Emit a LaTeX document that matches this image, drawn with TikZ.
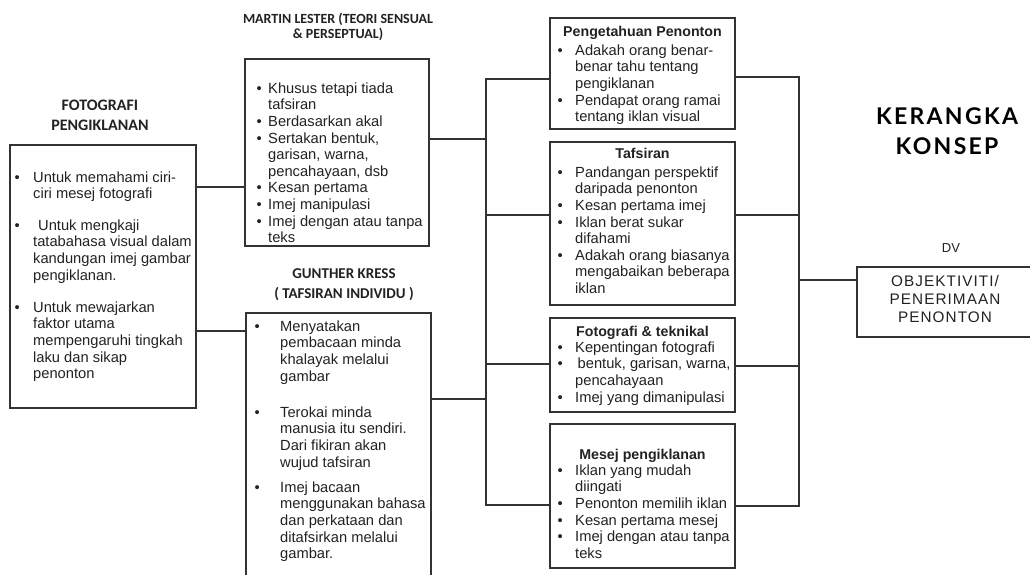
\documentclass[tikz,border=0pt]{standalone}
\usepackage{fontspec}
\setmainfont{Liberation Sans}
\newfontfamily\hfont{Carlito}
\newfontfamily\kfont[LetterSpace=10]{Lato}
\newfontfamily\dvfont[LetterSpace=7]{Liberation Sans}
\definecolor{textc}{HTML}{222222}
\definecolor{linec}{HTML}{333333}
\newlength\bindent
\newcommand{\mystrut}{\rule{0pt}{11pt}}
\newcommand{\bu}[1]{\makebox[\bindent][l]{\textbullet}#1}
\newcommand{\cn}[1]{\hspace*{\bindent}#1}
\begin{document}
\begin{tikzpicture}[x=1pt,y=-1pt,
  box/.style={draw=linec, line width=1.4pt, rectangle, inner sep=0pt, outer sep=0pt, anchor=north west},
  conn/.style={draw=linec, line width=1.4pt},
  ind/.code={\global\bindent=#1\relax},
  txt/.style={anchor=north west, align=left, inner sep=0pt, text=textc, font=\fontsize{14.7}{16.6}\selectfont},
  ttl/.style={anchor=north, align=center, inner sep=0pt, text=textc, font=\fontsize{14.2}{16.6}\selectfont\bfseries},
  hdr/.style={anchor=north, align=center, inner sep=0pt, text=textc, font=\hfont\bfseries\fontsize{16}{20}\selectfont},
  hdrg/.style={anchor=north, align=center, inner sep=0pt, text=textc, font=\hfont\bfseries\fontsize{15}{20}\selectfont},
  hdrt/.style={anchor=north, align=center, inner sep=0pt, text=textc, font=\hfont\bfseries\fontsize{14}{15}\selectfont}]
\fill[white] (0,0) rectangle (1030,574);
\useasboundingbox (0,0) rectangle (1030,574);

% boxes
\node[box, minimum width=186pt, minimum height=263pt] (left) at (10,145) {};
\node[box, minimum width=184pt, minimum height=187pt] (martin) at (245,59) {};
\node[box, minimum width=185pt, minimum height=280pt] (gunther) at (246,313) {};
\node[box, minimum width=185pt, minimum height=111pt] (peng) at (550,18) {};
\node[box, minimum width=185pt, minimum height=163pt] (tafs) at (550,142) {};
\node[box, minimum width=185pt, minimum height=94pt] (foto) at (550,318) {};
\node[box, minimum width=185pt, minimum height=144pt] (mesej) at (550,424) {};
\node[box, minimum width=190pt, minimum height=70pt] (dv) at (857,267) {};

% bus coordinates
\coordinate (bl) at (486,0);
\coordinate (br) at (799,0);

% connectors
\draw[conn] (left.east |- 0,187) -- (martin.west |- 0,187);
\draw[conn] (left.east |- 0,331) -- (gunther.west |- 0,331);
\draw[conn] (martin.east |- 0,139) -- (bl |- 0,139);
\draw[conn] (gunther.east |- 0,399) -- (bl |- 0,399);
\draw[conn] (peng.west |- 0,79) -- (bl |- 0,79) -- (bl |- 0,505) -- (mesej.west |- 0,505);
\draw[conn] (bl |- 0,215) -- (tafs.west |- 0,215);
\draw[conn] (bl |- 0,364) -- (foto.west |- 0,364);
\draw[conn] (peng.east |- 0,77) -- (br |- 0,77) -- (br |- 0,506) -- (mesej.east |- 0,506);
\draw[conn] (tafs.east |- 0,215) -- (br |- 0,215);
\draw[conn] (foto.east |- 0,366) -- (br |- 0,366);
\draw[conn] (br |- 0,280) -- (dv.west |- 0,280);

% headers
\node[hdr] (hleft) at (100,99) {\mystrut FOTOGRAFI\\PENGIKLANAN};
\node[hdrt] (hmartin) at (338,12) {\mystrut MARTIN LESTER (TEORI SENSUAL\\\& PERSEPTUAL)};
\node[hdrg] (hgunther) at (344,267) {\mystrut GUNTHER KRESS\\( TAFSIRAN INDIVIDU )};

% left text
\node[txt, ind=18.5pt] (tleft) at (14.5,171) {\mystrut\bu{Untuk memahami ciri-}\\
\cn{ciri mesej fotografi}\\[14.8pt]
\bu{\hspace{5pt}Untuk mengkaji}\\
\cn{tatabahasa visual dalam}\\
\cn{kandungan imej gambar}\\
\cn{pengiklanan.}\\[15.6pt]
\bu{Untuk mewajarkan}\\
\cn{faktor utama}\\
\cn{mempengaruhi tingkah}\\
\cn{laku dan sikap}\\
\cn{penonton}};

% martin text
\node[txt, ind=11.5pt] (tmartin) at (256.5,82) {\mystrut\bu{Khusus tetapi tiada}\\
\cn{tafsiran}\\
\bu{Berdasarkan akal}\\
\bu{Sertakan bentuk,}\\
\cn{garisan, warna,}\\
\cn{pencahayaan, dsb}\\
\bu{Kesan pertama}\\
\bu{Imej manipulasi}\\
\bu{Imej dengan atau tanpa}\\
\cn{teks}};

% gunther text
\node[txt, ind=25.5pt] (tgunther) at (254.5,320) {\mystrut\bu{Menyatakan}\\
\cn{pembacaan minda}\\
\cn{khalayak melalui}\\
\cn{gambar}\\[19.6pt]
\bu{Terokai minda}\\
\cn{manusia itu sendiri.}\\
\cn{Dari fikiran akan}\\
\cn{wujud tafsiran}\\[8.6pt]
\bu{Imej bacaan}\\
\cn{menggunakan bahasa}\\
\cn{dan perkataan dan}\\
\cn{ditafsirkan melalui}\\
\cn{gambar.}};

% right-middle boxes text
\node[ttl] (tpeng) at (642.5,25) {\mystrut Pengetahuan Penonton};
\node[txt, ind=17.5pt] (lpeng) at (557.5,44) {\mystrut\bu{Adakah orang benar-}\\
\cn{benar tahu tentang}\\
\cn{pengiklanan}\\
\bu{Pendapat orang ramai}\\
\cn{tentang iklan visual}};

\node[ttl] (ttafs) at (642.5,147) {\mystrut Tafsiran};
\node[txt, ind=17.5pt] (ltafs) at (557.5,166) {\mystrut\bu{Pandangan perspektif}\\
\cn{daripada penonton}\\
\bu{Kesan pertama imej}\\
\bu{Iklan berat sukar}\\
\cn{difahami}\\
\bu{Adakah orang biasanya}\\
\cn{mengabaikan beberapa}\\
\cn{iklan}};

\node[ttl] (tfoto) at (642.5,325) {\mystrut Fotografi \& teknikal};
\node[txt, ind=17.5pt] (lfoto) at (557.5,341) {\mystrut\bu{Kepentingan fotografi}\\
\bu{\hspace{2.5pt}bentuk, garisan, warna,}\\
\cn{pencahayaan}\\
\bu{Imej yang dimanipulasi}};

\node[ttl] (tmesej) at (642.5,448) {\mystrut Mesej pengiklanan};
\node[txt, ind=17.5pt] (lmesej) at (557.5,464) {\mystrut\bu{Iklan yang mudah}\\
\cn{diingati}\\
\bu{Penonton memilih iklan}\\
\bu{Kesan pertama mesej}\\
\bu{Imej dengan atau tanpa}\\
\cn{teks}};

% title and DV
\node[anchor=north, align=center, inner sep=0pt, text=black, font=\kfont\bfseries\fontsize{23}{30}\selectfont] (title) at (947,107) {\rule{0pt}{17pt}KERANGKA\\KONSEP};
\node[anchor=base, inner sep=0pt, text=textc, font=\fontsize{13}{16}\selectfont] (dvlab) at (951,252) {DV};
\node[anchor=north, align=center, inner sep=0pt, text=textc, font=\dvfont\fontsize{15.3}{18}\selectfont] (dvtxt) at (945,275) {\mystrut OBJEKTIVITI/\\PENERIMAAN\\PENONTON};
\end{tikzpicture}
\end{document}
